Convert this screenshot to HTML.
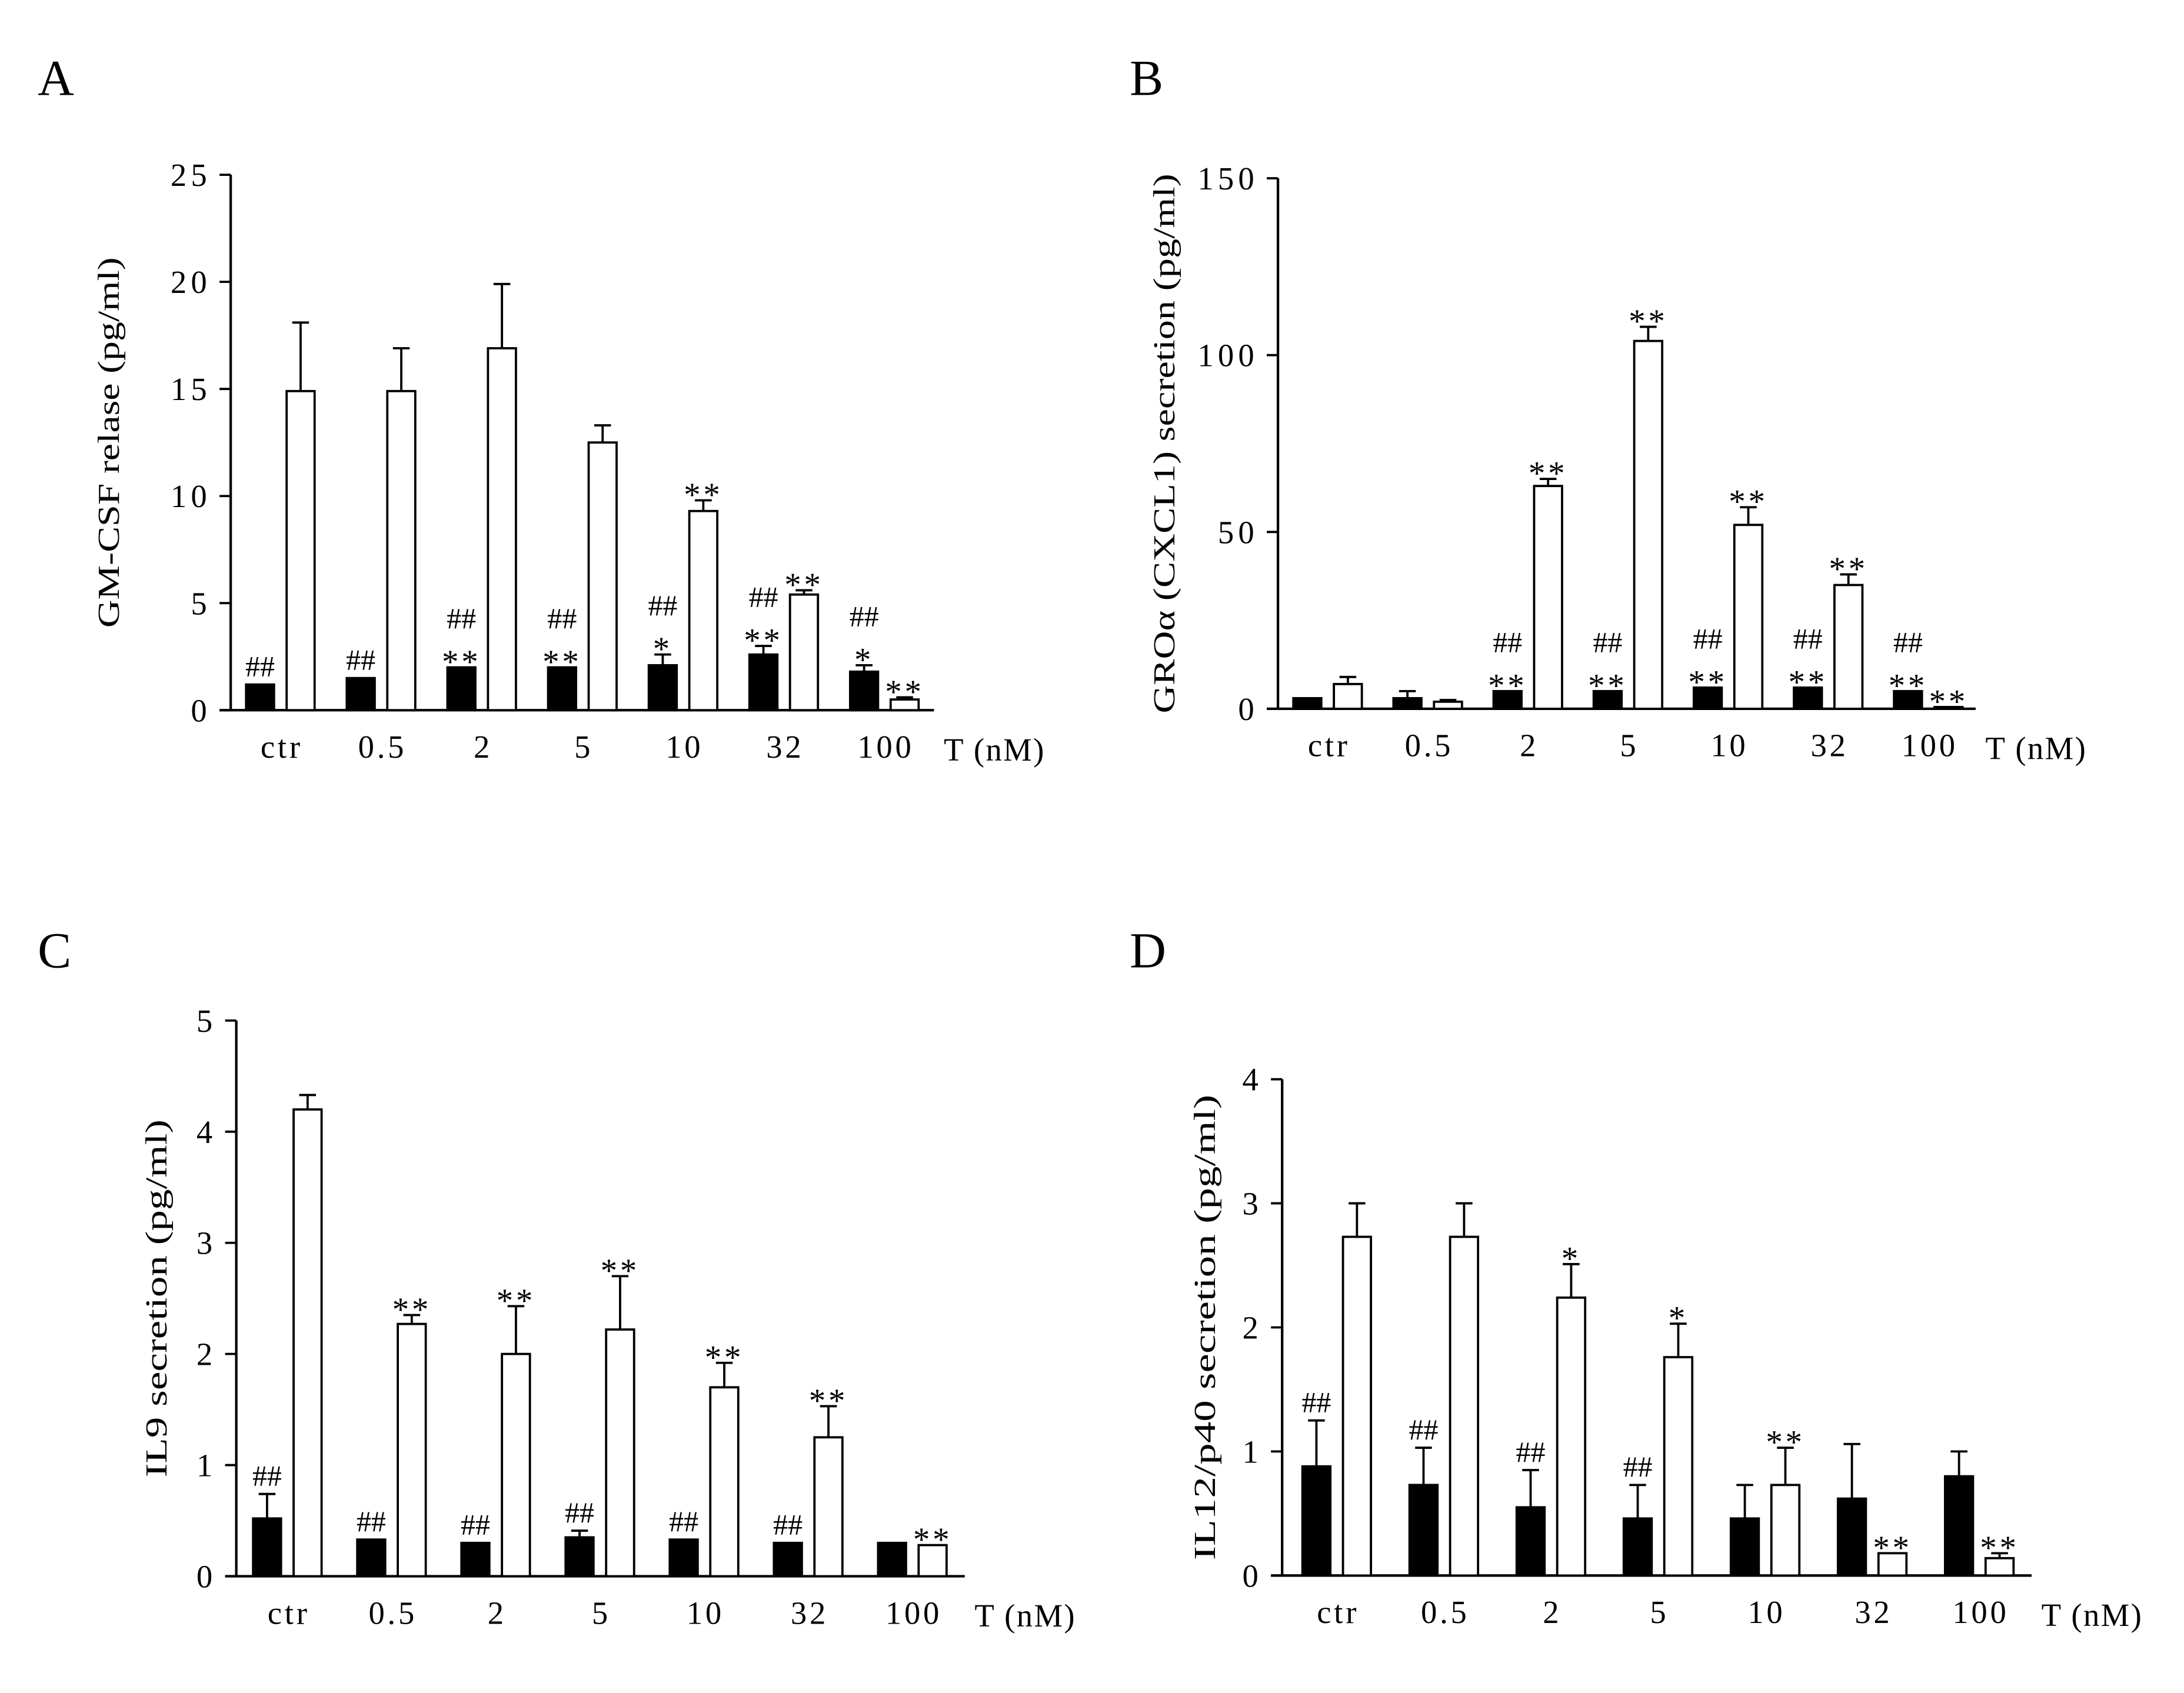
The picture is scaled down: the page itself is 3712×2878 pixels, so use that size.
<!DOCTYPE html>
<html><head><meta charset="utf-8"><style>
html,body{margin:0;padding:0;background:#fff;}
svg{display:block;}
text{font-family:"Liberation Serif",serif;fill:#000;}
</style></head><body>
<svg id="fig" width="3712" height="2878" viewBox="0 0 1562 1211" xmlns="http://www.w3.org/2000/svg"></svg>
<script>
const cats = ["ctr","0.5","2","5","10","32","100"];
// Panel A
const aBlack = [1.2,1.5,2.0,2.0,2.1,2.6,1.8];
const aBlackErr = [0,0,0,0,0.5,0.4,0.3];
const aWhite = [14.9,14.9,16.9,12.5,9.3,5.4,0.5];
const aWhiteErr = [3.2,2.0,3.0,0.8,0.5,0.2,0.1];
const aTicks = [0,5,10,15,20,25];
const aBlackAnn = [["##"],["##"],["##","**"],["##","**"],["##","*"],["##","**"],["##","*"]];
const aWhiteAnn = [[],[],[],[],["**"],["**"],["**"]];
// Panel B
const bBlack = [3,3,5,5,6,6,5];
const bBlackErr = [0,2,0,0,0,0,0];
const bWhite = [7,2,63,104,52,35,0.5];
const bWhiteErr = [2,0.5,2,4,5,3,0];
const bTicks = [0,50,100,150];
const bBlackAnn = [[],[],["##","**"],["##","**"],["##","**"],["##","**"],["##","**"]];
const bWhiteAnn = [[],[],["**"],["**"],["**"],["**"],["**"]];
// Panel C
const cBlack = [0.52,0.33,0.3,0.35,0.33,0.3,0.3];
const cBlackErr = [0.22,0,0,0.06,0,0,0];
const cWhite = [4.2,2.27,2.0,2.22,1.7,1.25,0.28];
const cWhiteErr = [0.13,0.08,0.43,0.48,0.22,0.28,0];
const cTicks = [0,1,2,3,4,5];
const cBlackAnn = [["##"],["##"],["##"],["##"],["##"],["##"],[]];
const cWhiteAnn = [[],["**"],["**"],["**"],["**"],["**"],["**"]];
// Panel D
const dBlack = [0.88,0.73,0.55,0.46,0.46,0.62,0.8];
const dBlackErr = [0.37,0.3,0.3,0.27,0.27,0.44,0.2];
const dWhite = [2.73,2.73,2.24,1.76,0.73,0.18,0.14];
const dWhiteErr = [0.27,0.27,0.27,0.27,0.3,0,0.04];
const dTicks = [0,1,2,3,4];
const dBlackAnn = [["##"],["##"],["##"],["##"],[],[],[]];
const dWhiteAnn = [[],[],["*"],["*"],["**"],["**"],["**"]];

const NS="http://www.w3.org/2000/svg";
const svg=document.getElementById('fig');
function mk(tag,attrs,parent,txt){const e=document.createElementNS(NS,tag);for(const k in attrs)e.setAttribute(k,attrs[k]);if(txt!==undefined)e.textContent=txt;(parent||svg).appendChild(e);return e;}

function panel(p){
  const g=mk('g',{});
  
  
  const yMax=p.ticks[p.ticks.length-1];
  const y=v=>p.y0-(v/yMax)*(p.y0-p.yTop);
  const x=i=>p.x1+p.step*i;
  const L=mk('text',{x:p.letterX,y:p.letterY,'font-size':36},g,p.id);
  
  
  const ax=mk('line',{x1:p.ax,y1:p.yTop,x2:p.ax,y2:p.y0,stroke:'#000','stroke-width':1.8},g);
  
  
  const xa=mk('line',{x1:p.ax-8,y1:p.y0,x2:p.xEnd,y2:p.y0,stroke:'#000','stroke-width':1.8},g);
  
  
  p.ticks.forEach(t=>{
    mk('line',{x1:p.ax-8,y1:y(t),x2:p.ax,y2:y(t),stroke:'#000','stroke-width':1.6},g);
    const tl=mk('text',{x:p.ax-14,y:y(t)+8,'font-size':23,'text-anchor':'end','letter-spacing':3},g,t);
    
    
  });
  const yl=mk('text',{x:0,y:0,'font-size':22,'text-anchor':'middle',textLength:p.ylLen,lengthAdjust:'spacingAndGlyphs',transform:`translate(${p.ylX+8},${(p.y0+p.yTop)/2}) rotate(-90)`},g,p.ylabel);
  
  
  const xt=mk('text',{x:p.xEnd+7,y:p.y0+36,'font-size':23,'letter-spacing':1},g,'T (nM)');
  
  
  const bw=p.bw;
  cats.forEach((c,i)=>{
    const cl=mk('text',{x:x(i)+1,y:p.y0+34,'font-size':23,'text-anchor':'middle','letter-spacing':2},g,c);
    
    
    [[p.black,p.blackErr,p.blackAnn,-1,'#000'],[p.white,p.whiteErr,p.whiteAnn,1,'#fff']].forEach(([vals,errs,anns,side,fill])=>{
      const cx=x(i)+side*(bw/2+4.5);
      const v=vals[i],e=errs[i];
      if(e>0){
        mk('line',{x1:cx,y1:y(v),x2:cx,y2:y(v+e),stroke:'#000','stroke-width':1.6},g);
        mk('line',{x1:cx-bw/4-1,y1:y(v+e),x2:cx+bw/4+1,y2:y(v+e),stroke:'#000','stroke-width':1.6},g);
      }
      const r=mk('rect',{x:cx-bw/2,y:y(v),width:bw,height:Math.max(p.y0-y(v),1),fill:fill,stroke:'#000','stroke-width':1.6},g);
      
      
      let ay=y(v+e)-6;
      const a=anns[i].slice().reverse();
      a.forEach(s=>{
        const star=s.indexOf('*')>=0;
        const at=mk('text',{x:cx,y:ay+(star?10:0),'font-size':star?24:21,'text-anchor':'middle','letter-spacing':star?2:0},g,s);
        
        
        ay-=22;
      });
    });
  });
}
panel({id:'A',letterX:27,letterY:68,ax:165,yTop:125,y0:508,xEnd:668,x1:200.5,step:72,bw:20,ticks:aTicks,ylX:77,ylLen:265,ylabel:'GM-CSF relase (pg/ml)',black:aBlack,blackErr:aBlackErr,white:aWhite,whiteErr:aWhiteErr,blackAnn:aBlackAnn,whiteAnn:aWhiteAnn});
panel({id:'B',letterX:808,letterY:68,ax:914,yTop:127.5,y0:507,xEnd:1413,x1:949.5,step:71.6,bw:20,ticks:bTicks,ylX:832,ylLen:386,ylabel:'GROα (CXCL1) secretion (pg/ml)',black:bBlack,blackErr:bBlackErr,white:bWhite,whiteErr:bWhiteErr,blackAnn:bBlackAnn,whiteAnn:bWhiteAnn});
panel({id:'C',letterX:27,letterY:692,ax:169,yTop:730,y0:1127.5,xEnd:690,x1:205.5,step:74.5,bw:20,ticks:cTicks,ylX:111,ylLen:256,ylabel:'IL9  secretion (pg/ml)',black:cBlack,blackErr:cBlackErr,white:cWhite,whiteErr:cWhiteErr,blackAnn:cBlackAnn,whiteAnn:cWhiteAnn});
panel({id:'D',letterX:808,letterY:692,ax:917,yTop:772,y0:1127,xEnd:1453,x1:956,step:76.6,bw:20,ticks:dTicks,ylX:861,ylLen:333,ylabel:'IL12/p40  secretion (pg/ml)',black:dBlack,blackErr:dBlackErr,white:dWhite,whiteErr:dWhiteErr,blackAnn:dBlackAnn,whiteAnn:dWhiteAnn});
</script>
</body></html>
